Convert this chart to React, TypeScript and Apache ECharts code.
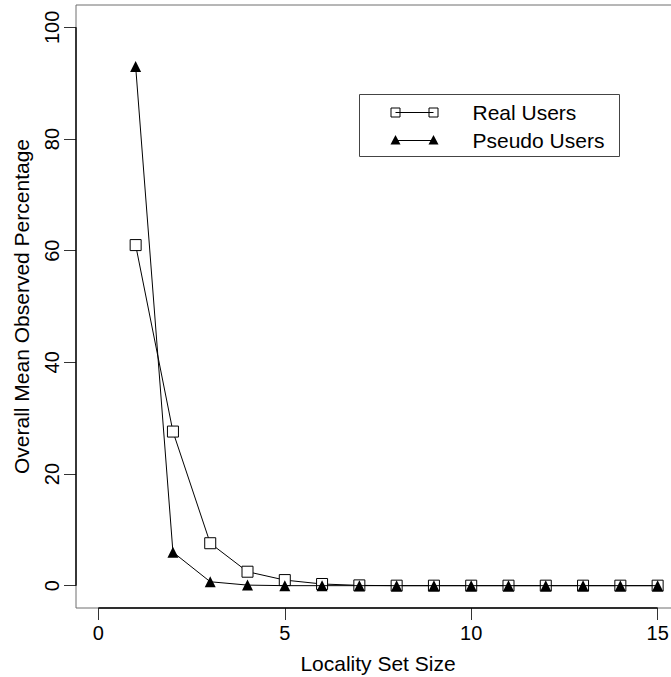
import React, { useEffect, useRef } from "react";
import * as echarts from "echarts";

const localitySizes = [1, 2, 3, 4, 5, 6, 7, 8, 9, 10, 11, 12, 13, 14, 15];
const realUsers = [61, 27.6, 7.6, 2.5, 1.0, 0.3, 0.05, 0, 0, 0, 0, 0, 0, 0, 0];
const pseudoUsers = [93, 6, 0.7, 0.1, 0, 0, 0, 0, 0, 0, 0, 0, 0, 0, 0];
const xTicks = [0, 5, 10, 15];
const yTicks = [0, 20, 40, 60, 80, 100];
const seriesNames = ["Real Users", "Pseudo Users"];

const FONT = "'Liberation Sans', Arial, Helvetica, sans-serif";

export default function App() {
  const ref = useRef<HTMLDivElement>(null);
  useEffect(() => {
    if (!ref.current) return;
    const chart = echarts.init(ref.current, null, { renderer: "svg" });
    const xMin = -0.6, xMax = 15.6, yMin = -4, yMax = 104;
    const legX = 359, legY = 94;
    chart.setOption({
      animation: false,
      backgroundColor: "#ffffff",
      textStyle: { fontFamily: FONT },
      grid: {
        left: 76, top: 5, width: 604, height: 603,
        outerBoundsMode: "none", containLabel: false,
        show: true, borderColor: "#6e6e6e", borderWidth: 1, backgroundColor: "transparent",
      },
      xAxis: {
        type: "value", min: xMin, max: xMax,
        splitLine: { show: false },
        axisLine: { show: false, onZero: false },
        axisTick: { show: true, inside: false, length: 12, lineStyle: { color: "#333", width: 1 }, customValues: xTicks },
        axisLabel: { customValues: xTicks, color: "#000", fontSize: 20, margin: 15, fontFamily: FONT },
        name: "Locality Set Size", nameLocation: "middle", nameGap: 45,
        nameTextStyle: { color: "#000", fontSize: 21, fontFamily: FONT },
      },
      yAxis: {
        type: "value", min: yMin, max: yMax,
        splitLine: { show: false },
        axisLine: { show: false, onZero: false },
        axisTick: { show: true, inside: false, length: 12, lineStyle: { color: "#333", width: 1 }, customValues: yTicks },
        axisLabel: { customValues: yTicks, color: "#000", fontSize: 20, margin: 14, rotate: 90, fontFamily: FONT },
        name: "Overall Mean Observed Percentage", nameLocation: "middle", nameGap: 44, nameRotate: 90,
        nameTextStyle: { color: "#000", fontSize: 21, fontFamily: FONT },
      },
      series: [
        {
          type: "line", silent: true, clip: false, symbol: "none",
          data: [[xMin, yTicks[0]], [xMin, yTicks[yTicks.length - 1]]],
          lineStyle: { color: "#000", width: 1.4 }, z: 1,
        },
        {
          type: "line", silent: true, clip: false, symbol: "none",
          data: [[xTicks[0], yMin], [xTicks[xTicks.length - 1], yMin]],
          lineStyle: { color: "#000", width: 1.4 }, z: 1,
        },
        {
          name: seriesNames[0], type: "line",
          data: localitySizes.map((x, i) => [x, realUsers[i]]),
          symbol: "rect", symbolSize: 11, showAllSymbol: true,
          lineStyle: { color: "#000", width: 1 },
          itemStyle: { color: "#fff", borderColor: "#000", borderWidth: 1 },
          z: 3,
        },
        {
          name: seriesNames[1], type: "line",
          data: localitySizes.map((x, i) => [x, pseudoUsers[i]]),
          symbol: "triangle", symbolSize: 11, showAllSymbol: true,
          lineStyle: { color: "#000", width: 1 },
          itemStyle: { color: "#000", borderColor: "#000", borderWidth: 0 },
          z: 4,
        },
      ],
      graphic: [
        {
          type: "group", left: legX, top: legY,
          children: [
            { type: "rect", shape: { x: 0, y: 0, width: 260, height: 62 }, style: { fill: "#fff", stroke: "#444", lineWidth: 1 } },
            { type: "line", shape: { x1: 36, y1: 18, x2: 74, y2: 18 }, style: { stroke: "#000", lineWidth: 1 } },
            { type: "rect", shape: { x: 31.5, y: 13.5, width: 9, height: 9 }, style: { fill: "none", stroke: "#000", lineWidth: 1 } },
            { type: "rect", shape: { x: 69.5, y: 13.5, width: 9, height: 9 }, style: { fill: "none", stroke: "#000", lineWidth: 1 } },
            { type: "line", shape: { x1: 36, y1: 46, x2: 74, y2: 46 }, style: { stroke: "#000", lineWidth: 1 } },
            { type: "polygon", shape: { points: [[36, 40.5], [31, 50], [41, 50]] }, style: { fill: "#000" } },
            { type: "polygon", shape: { points: [[74, 40.5], [69, 50], [79, 50]] }, style: { fill: "#000" } },
            { type: "text", x: 113, y: 18, style: { text: seriesNames[0], fontSize: 21, fontFamily: FONT, fill: "#000", verticalAlign: "middle", align: "left" } },
            { type: "text", x: 113, y: 46, style: { text: seriesNames[1], fontSize: 21, fontFamily: FONT, fill: "#000", verticalAlign: "middle", align: "left" } },
          ],
        },
      ],
    });
    return () => chart.dispose();
  }, []);
  return (
    <div
      ref={ref}
      style={{ position: "fixed", left: 0, top: 0, width: 671, height: 677, background: "#fff" }}
    />
  );
}
